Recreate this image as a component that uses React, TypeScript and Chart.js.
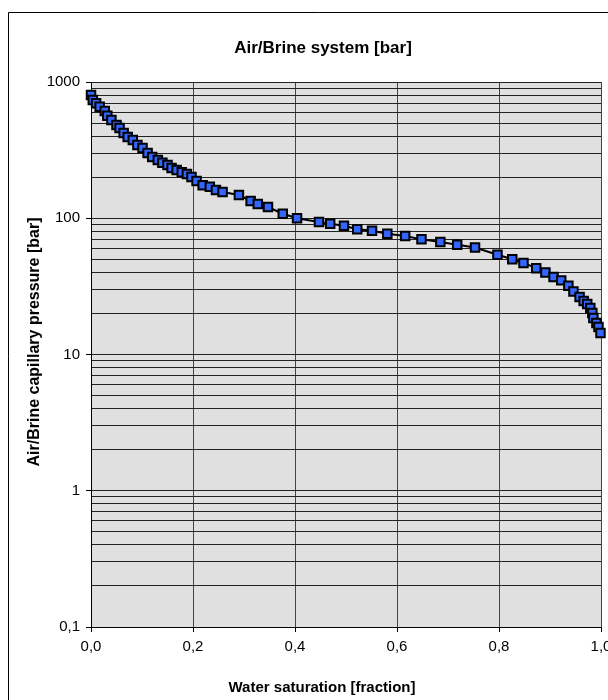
import React, { useEffect, useRef } from "react";
import { Chart, registerables } from "chart.js";

Chart.register(...registerables);

const chartTitle = "Air/Brine system [bar]";
const xAxisTitle = "Water saturation [fraction]";
const yAxisTitle = "Air/Brine capillary pressure [bar]";

const waterSaturation = [
  0.0, 0.0035, 0.01, 0.017, 0.027, 0.032, 0.04, 0.05, 0.056, 0.064,
  0.072, 0.082, 0.091, 0.101, 0.111, 0.12, 0.131, 0.14, 0.15, 0.158,
  0.168, 0.178, 0.188, 0.197, 0.207, 0.219, 0.233, 0.245, 0.258, 0.29,
  0.313, 0.327, 0.347, 0.376, 0.404, 0.447, 0.469, 0.496, 0.522, 0.551,
  0.581, 0.616, 0.648, 0.685, 0.718, 0.753, 0.797, 0.826, 0.848, 0.873,
  0.891, 0.907, 0.922, 0.936, 0.946, 0.958, 0.966, 0.973, 0.979, 0.983,
  0.985, 0.991, 0.995, 0.999,
];
const capillaryPressure = [
  803, 738, 698, 659, 612, 566, 526, 483, 459, 422,
  395, 375, 345, 328, 301, 282, 268, 255, 246, 234,
  226, 218, 211, 201, 188, 175, 170, 161, 156, 148,
  134, 127, 121, 108, 100, 94, 91, 88, 83, 81,
  77, 74, 70, 67, 64, 61, 54, 50, 47, 43,
  40, 37, 35, 32, 29, 26.4, 24.7, 23.5, 21.9, 20.2,
  18.5, 17.0, 15.9, 14.4,
];

const xTickValues = [0, 0.2, 0.4, 0.6, 0.8, 1.0];
const xTickLabels = ["0,0", "0,2", "0,4", "0,6", "0,8", "1,0"];
const yMajorTicks = [0.1, 1, 10, 100, 1000];
const yMajorLabels = ["0,1", "1", "10", "100", "1000"];
const yMinorSteps = [2, 3, 4, 5, 6, 7, 8, 9];

const FONT = '"Liberation Sans", Arial, Helvetica, sans-serif';
const W = 620;
const H = 692;

export default function App() {
  const ref = useRef<HTMLCanvasElement | null>(null);

  useEffect(() => {
    const canvas = ref.current;
    if (!canvas) return;

    const yTicks: { value: number; major: boolean }[] = [];
    yMajorTicks.forEach((d, i) => {
      yTicks.push({ value: d, major: true });
      if (i < yMajorTicks.length - 1) {
        yMinorSteps.forEach((m) => yTicks.push({ value: +(d * m).toPrecision(6), major: false }));
      }
    });

    const decor = {
      id: "excelDecor",
      beforeDraw(chart: any) {
        const { ctx, chartArea: a } = chart;
        ctx.save();
        ctx.fillStyle = "#E0E0E0";
        ctx.fillRect(a.left, a.top, a.right - a.left, a.bottom - a.top);
        ctx.strokeStyle = "#000";
        ctx.lineWidth = 1;
        ctx.beginPath();
        ctx.moveTo(0.5, H + 10);
        ctx.lineTo(0.5, 4.5);
        ctx.lineTo(W + 10, 4.5);
        ctx.stroke();
        ctx.restore();
      },
      afterDraw(chart: any) {
        const { ctx } = chart;
        ctx.save();
        ctx.fillStyle = "#000";
        ctx.textAlign = "center";
        ctx.textBaseline = "middle";
        ctx.font = `bold 17px ${FONT}`;
        ctx.fillText(chartTitle, 315, 40);
        ctx.font = `bold 15px ${FONT}`;
        ctx.fillText(xAxisTitle, 314, 680);
        ctx.font = `bold 16px ${FONT}`;
        ctx.translate(27, 334);
        ctx.rotate(-Math.PI / 2);
        ctx.fillText(yAxisTitle, 0, 0);
        ctx.restore();
      },
    };

    const chart = new Chart(canvas, {
      type: "line",
      data: {
        datasets: [
          {
            data: waterSaturation.map((x, i) => ({ x, y: capillaryPressure[i] })),
            borderColor: "#000",
            borderWidth: 2,
            pointStyle: "rect",
            pointRadius: 6,
            pointBackgroundColor: "#3366FF",
            pointBorderColor: "#000",
            pointBorderWidth: 2,
            tension: 0,
            clip: false as any,
          },
        ],
      },
      options: {
        animation: false,
        responsive: false,
        devicePixelRatio: 1,
        layout: { padding: { left: 0, right: 27, top: 74, bottom: 0 } },
        plugins: {
          legend: { display: false },
          tooltip: { enabled: false },
          title: { display: false },
        },
        scales: {
          x: {
            type: "linear",
            min: 0,
            max: 1,
            afterFit(scale: any) {
              scale.height = 73;
            },
            afterBuildTicks(scale: any) {
              scale.ticks = xTickValues.map((v) => ({ value: v }));
            },
            ticks: {
              autoSkip: false,
              maxRotation: 0,
              padding: 6,
              color: "#000",
              font: { family: FONT, size: 15 },
              callback: (_v: any, i: number) => xTickLabels[i],
            },
            grid: {
              color: "#444",
              lineWidth: 1,
              tickLength: 5,
              tickColor: "#000",
            },
            border: { display: true, color: "#000", width: 1 },
          },
          y: {
            type: "logarithmic",
            min: 0.1,
            max: 1000,
            afterFit(scale: any) {
              scale.width = 83;
            },
            afterBuildTicks(scale: any) {
              scale.ticks = yTicks.map((t) => ({ ...t }));
            },
            ticks: {
              autoSkip: false,
              padding: 6,
              color: "#000",
              font: { family: FONT, size: 15 },
              callback: (v: any) => {
                const idx = yMajorTicks.findIndex((d) => Math.abs(d - Number(v)) < d * 1e-6);
                return idx >= 0 ? yMajorLabels[idx] : "";
              },
            },
            grid: {
              color: "#222",
              lineWidth: 1,
              tickLength: 5,
              tickColor: (c: any) => (c.tick && c.tick.major ? "#000" : "rgba(0,0,0,0)"),
            },
            border: { display: true, color: "#000", width: 1 },
          },
        },
      },
      plugins: [decor],
    } as any);

    return () => chart.destroy();
  }, []);

  return (
    <div
      style={{
        position: "absolute",
        left: 8,
        top: 8,
        width: 600,
        height: H,
        overflow: "hidden",
        background: "#fff",
      }}
    >
      <canvas ref={ref} width={W} height={H} style={{ width: W, height: H, display: "block" }} />
    </div>
  );
}
